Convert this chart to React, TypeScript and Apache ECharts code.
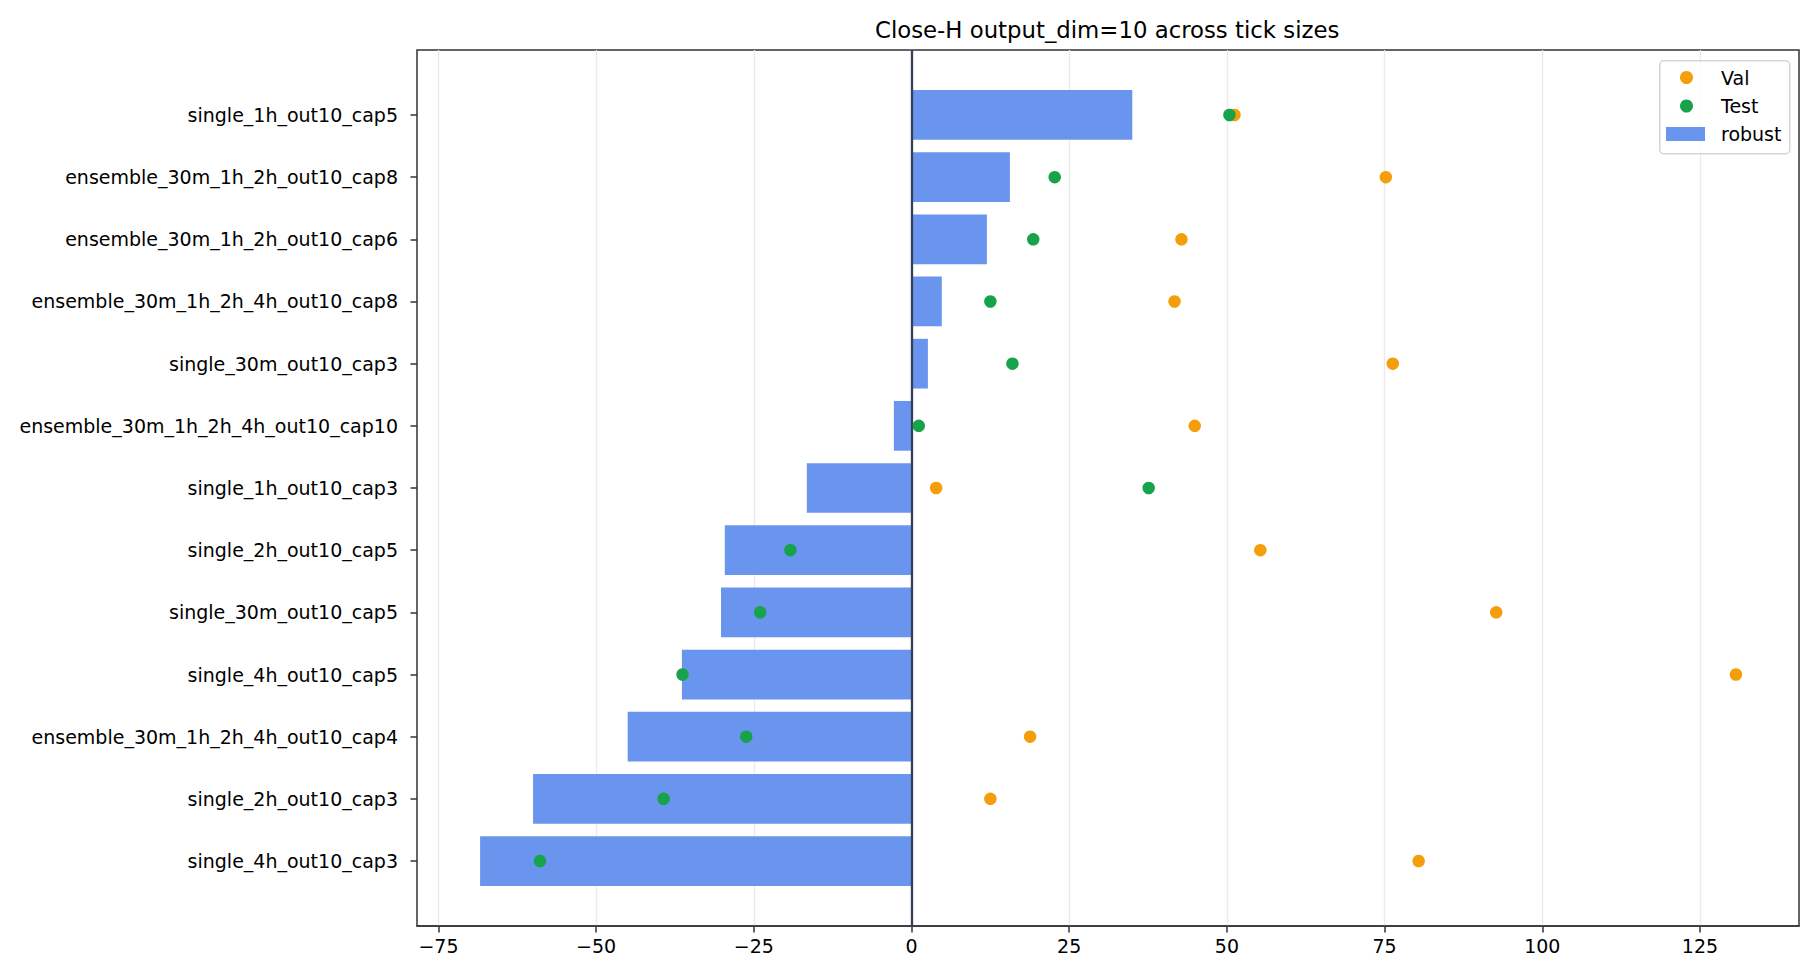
import React, { useEffect, useRef } from "react";
import * as echarts from "echarts";

const categories: string[] = [
  "single_1h_out10_cap5",
  "ensemble_30m_1h_2h_out10_cap8",
  "ensemble_30m_1h_2h_out10_cap6",
  "ensemble_30m_1h_2h_4h_out10_cap8",
  "single_30m_out10_cap3",
  "ensemble_30m_1h_2h_4h_out10_cap10",
  "single_1h_out10_cap3",
  "single_2h_out10_cap5",
  "single_30m_out10_cap5",
  "single_4h_out10_cap5",
  "ensemble_30m_1h_2h_4h_out10_cap4",
  "single_2h_out10_cap3",
  "single_4h_out10_cap3",
];

const robust: number[] = [35.0, 15.6, 11.95, 4.8, 2.6, -2.8, -16.6, -29.6, -30.2, -36.4, -45.0, -60.0, -68.4];
const valScores: number[] = [51.2, 75.2, 42.8, 41.7, 76.3, 44.9, 3.9, 55.3, 92.7, 130.7, 18.8, 12.5, 80.4];
const testScores: number[] = [50.4, 22.7, 19.3, 12.5, 16.0, 1.15, 37.6, -19.2, -24.0, -36.3, -26.2, -39.3, -58.9];

const xTicks: number[] = [-75, -50, -25, 0, 25, 50, 75, 100, 125];
const xMin = -78.4;
const xMax = 140.7;

const TITLE = "Close-H output_dim=10 across tick sizes";
const FONT = "DejaVu Sans";

export default function App() {
  const ref = useRef<HTMLDivElement>(null);

  useEffect(() => {
    document.body.style.margin = "0";
    if (!ref.current) return;
    const chart = echarts.init(ref.current, undefined, { renderer: "svg" });

    const fmt = (v: number) => (v < 0 ? "\u2212" + Math.abs(v) : String(v));

    const option: any = {
      animation: false,
      backgroundColor: "#ffffff",
      textStyle: { fontFamily: FONT },
      title: {
        text: TITLE,
        left: 875,
        top: 18.6,
        padding: 0,
        textStyle: { fontFamily: FONT, fontSize: 22.8, fontWeight: "normal", color: "#000000" },
      },
      grid: [
        {
          left: 417,
          right: 21,
          top: 50,
          bottom: 54,
          show: true,
          borderColor: "#333333",
          borderWidth: 1.5,
          backgroundColor: "transparent",
        },
        { left: 417, right: 21, top: 83.9, bottom: 87.9 },
      ],
      xAxis: [
        {
          type: "value",
          gridIndex: 0,
          min: xMin,
          max: xMax,
          axisLine: { show: true, onZero: false, lineStyle: { color: "#333333", width: 1.5 } },
          axisTick: {
            show: true,
            customValues: xTicks,
            length: 6.5,
            lineStyle: { color: "#333333", width: 1.5 },
          },
          axisLabel: {
            customValues: xTicks,
            formatter: fmt,
            fontSize: 19,
            fontFamily: FONT,
            color: "#000000",
            margin: 10,
          },
          splitLine: { show: true, lineStyle: { color: "#ebebeb", width: 1.3 } },
        },
        {
          type: "value",
          gridIndex: 1,
          min: xMin,
          max: xMax,
          show: false,
          axisLine: { onZero: false },
          splitLine: { show: false },
        },
      ],
      yAxis: [
        {
          type: "value",
          gridIndex: 0,
          min: 0,
          max: 1,
          show: false,
          axisLine: { onZero: false },
          splitLine: { show: false },
        },
        {
          type: "category",
          gridIndex: 1,
          inverse: true,
          data: categories,
          position: "left",
          axisLine: { show: false, onZero: false },
          axisTick: {
            show: true,
            alignWithLabel: true,
            length: 6.5,
            lineStyle: { color: "#333333", width: 1.5 },
          },
          axisLabel: { fontSize: 19, fontFamily: FONT, color: "#000000", margin: 19 },
          splitLine: { show: false },
        },
      ],
      legend: [
        {
          data: ["Val", "Test"],
          orient: "vertical",
          left: 1680,
          top: 68,
          padding: 0,
          itemGap: 9.5,
          itemWidth: 13,
          itemHeight: 13,
          icon: "circle",
          z: 6,
          formatter: "{t|{name}}",
          textStyle: {
            fontSize: 19,
            fontFamily: FONT,
            color: "#000000",
            rich: { t: { fontSize: 19, fontFamily: FONT, color: "#000000", padding: [0, 0, 0, 23] } },
          },
        },
        {
          data: ["robust"],
          orient: "vertical",
          left: 1666,
          top: 124.5,
          padding: 0,
          itemWidth: 39,
          itemHeight: 14,
          icon: "rect",
          z: 6,
          formatter: "{t|{name}}",
          textStyle: {
            fontSize: 19,
            fontFamily: FONT,
            color: "#000000",
            rich: { t: { fontSize: 19, fontFamily: FONT, color: "#000000", padding: [0, 0, 0, 11] } },
          },
        },
      ],
      graphic: [
        {
          type: "rect",
          left: 1659,
          top: 60,
          z: 5,
          shape: { width: 130, height: 93, r: 4 },
          style: { fill: "rgba(255,255,255,0.8)", stroke: "#d6d6d6", lineWidth: 1.5 },
        },
      ],
      series: [
        {
          name: "zero",
          type: "line",
          xAxisIndex: 0,
          yAxisIndex: 0,
          data: [],
          z: 3,
          markLine: {
            silent: true,
            symbol: "none",
            label: { show: false },
            lineStyle: { color: "#334155", width: 2.3, type: "solid" },
            data: [{ xAxis: 0 }],
            z: 3,
          },
        },
        {
          name: "robust",
          type: "bar",
          xAxisIndex: 1,
          yAxisIndex: 1,
          data: robust,
          barWidth: "80%",
          z: 2,
          itemStyle: { color: "rgb(100,145,237)", opacity: 0.96 },
        },
        {
          name: "Val",
          type: "scatter",
          xAxisIndex: 1,
          yAxisIndex: 1,
          symbol: "circle",
          symbolSize: 12.5,
          z: 4,
          data: valScores.map((v, i) => [v, categories[i]]),
          itemStyle: { color: "#f59e0b", opacity: 1 },
        },
        {
          name: "Test",
          type: "scatter",
          xAxisIndex: 1,
          yAxisIndex: 1,
          symbol: "circle",
          symbolSize: 12.5,
          z: 5,
          data: testScores.map((v, i) => [v, categories[i]]),
          itemStyle: { color: "#16a34a", opacity: 1 },
        },
      ],
    };

    chart.setOption(option);
    return () => {
      chart.dispose();
    };
  }, []);

  return (
    <div
      ref={ref}
      style={{ position: "fixed", left: 0, top: 0, width: 1820, height: 980 }}
    />
  );
}
